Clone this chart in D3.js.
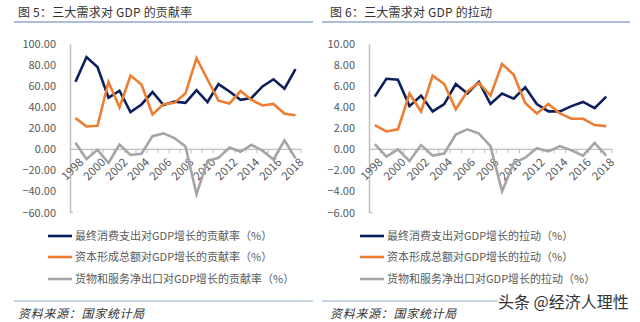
<!DOCTYPE html>
<html><head><meta charset="utf-8">
<script src="https://cdn.jsdelivr.net/npm/d3@7"></script>
<style>
html,body{margin:0;padding:0;background:#fff;}
svg{display:block;}
text{font-family:"Noto Sans CJK SC","Noto Sans",sans-serif;}
</style></head>
<body>
<svg id="c" width="640" height="322"></svg>
<script>
const years = d3.range(1998, 2019);
const xTickYears = [1998,2000,2002,2004,2006,2008,2010,2012,2014,2016,2018];

// 图5：贡献率 (%)
const contribConsumption = [64.1,87.6,78.1,49.0,55.6,35.4,42.6,54.4,42.0,45.3,44.2,56.1,44.9,61.9,54.9,47.0,48.8,59.7,66.5,57.6,76.2];
const contribCapital     = [29.6,21.7,22.4,64.0,39.8,70.0,61.6,33.1,42.9,44.1,53.2,86.5,66.3,46.2,43.4,55.3,46.9,41.6,43.1,33.8,32.4];
const contribNetExport   = [6.3,-9.3,-0.5,-13.0,4.6,-5.4,-4.2,12.5,15.1,10.6,2.6,-42.6,-11.2,-8.1,1.7,-2.3,4.3,-1.3,-9.6,8.6,-8.6];

// 图6：拉动 (百分点)
const pullConsumption = [5.0,6.7,6.6,4.1,5.1,3.6,4.3,6.2,5.3,6.4,4.3,5.3,4.8,5.9,4.3,3.6,3.6,4.1,4.5,3.9,5.0];
const pullCapital     = [2.3,1.7,1.9,5.3,3.6,7.0,6.2,3.8,5.5,6.3,5.1,8.1,7.1,4.4,3.4,4.3,3.4,2.9,2.9,2.3,2.2];
const pullNetExport   = [0.5,-0.7,0.0,-1.1,0.4,-0.6,-0.4,1.4,1.9,1.5,0.3,-4.0,-1.3,-0.8,0.1,-0.2,0.3,-0.1,-0.6,0.6,-0.6];

const leftTicks = [100,80,60,40,20,0,-20,-40,-60];
const rightTicks = [10,8,6,4,2,0,-2,-4,-6];

const leftLegend = ["最终消费支出对GDP增长的贡献率（%）","资本形成总额对GDP增长的贡献率（%）","货物和服务净出口对GDP增长的贡献率（%）"];
const rightLegend = ["最终消费支出对GDP增长的拉动（%）","资本形成总额对GDP增长的拉动（%）","货物和服务净出口对GDP增长的拉动（%）"];

const colors = ["#0c1f5c","#ed7d31","#a5a5a5"];
const svg = d3.select("#c");

function panel(opt){
  const g = svg.append("g");
  // title
  g.append("text").attr("x", opt.titleX).attr("y", 17)
    .attr("font-size", 12).attr("fill", "#333").attr("letter-spacing", 0.2)
    .text(opt.title);
  g.append("line").attr("x1", opt.lineX1).attr("x2", opt.lineX2).attr("y1", 22).attr("y2", 22)
    .attr("stroke", "#8faacc").attr("stroke-width", 1.5);

  const y = d3.scaleLinear().domain([opt.ticks[opt.ticks.length-1], opt.ticks[0]]).range([212.5, 44]);
  const x = d3.scaleBand().domain(years).range([opt.x0, opt.x1]);
  const cx = d => x(d) + x.bandwidth()/2;

  // y axis
  const ya = g.append("g").attr("transform", `translate(${opt.x0},0)`)
    .call(d3.axisLeft(y).tickValues(opt.ticks).tickSize(0).tickPadding(14).tickFormat(d3.format(".2f")));
  ya.select(".domain").attr("stroke", "#bfbfbf").attr("stroke-width", 1.5);
  ya.selectAll("text").attr("font-size", 11).attr("fill", "#595959")
    .attr("font-family", "Calibri,Carlito,'Liberation Sans','Noto Sans',sans-serif");
  g.append("line").attr("x1", opt.x0).attr("x2", opt.x0+3).attr("y1", y(opt.ticks[opt.ticks.length-1])).attr("y2", y(opt.ticks[opt.ticks.length-1]))
    .attr("stroke", "#bfbfbf").attr("stroke-width", 1.5);

  // x axis at zero
  const y0 = y(0);
  g.append("line").attr("x1", opt.x0).attr("x2", opt.x1).attr("y1", y0).attr("y2", y0)
    .attr("stroke", "#bfbfbf").attr("stroke-width", 1.2);
  const bounds = years.map(d => x(d)).concat([opt.x1]);
  g.selectAll(".xt").data(bounds.slice(1)).enter().append("line")
    .attr("x1", d => d).attr("x2", d => d).attr("y1", y0).attr("y2", y0+4)
    .attr("stroke", "#bfbfbf").attr("stroke-width", 1);
  g.selectAll(".xl").data(xTickYears).enter().append("text")
    .attr("transform", d => `translate(${cx(d)+3},${y0+8}) rotate(-45)`)
    .attr("text-anchor", "end").attr("dy", "0.7em")
    .attr("font-size", 11.5).attr("fill", "#595959")
    .attr("font-family", "Calibri,Carlito,'Liberation Sans','Noto Sans',sans-serif")
    .text(d => d);

  // lines
  const line = d3.line().x((d,i) => cx(years[i])).y(d => y(d));
  opt.series.forEach((s, i) => {
    g.append("path").datum(s).attr("d", line).attr("fill", "none")
      .attr("stroke", colors[i]).attr("stroke-width", 2.6).attr("stroke-linejoin", "miter");
  });

  // legend
  const ly = [236, 257, 279];
  opt.legend.forEach((t, i) => {
    g.append("line").attr("x1", opt.legX).attr("x2", opt.legX+24).attr("y1", ly[i]).attr("y2", ly[i])
      .attr("stroke", colors[i]).attr("stroke-width", 2.6);
    g.append("text").attr("x", opt.legX+27).attr("y", ly[i]+4)
      .attr("font-size", 11).attr("fill", "#595959").text(t);
  });

  // footer
  g.append("line").attr("x1", opt.lineX1).attr("x2", opt.footLineX2).attr("y1", 301).attr("y2", 301)
    .attr("stroke", "#8faacc").attr("stroke-width", 1.2);
  g.append("text").attr("x", opt.titleX).attr("y", 318)
    .attr("font-size", 12).attr("fill", "#333").attr("font-style", "italic").attr("letter-spacing", 0.7)
    .text("资料来源：国家统计局");
}

panel({title:"图 5：三大需求对 GDP 的贡献率", titleX:18, lineX1:14, lineX2:313, footLineX2:313,
  x0:70, x1:301, ticks:leftTicks, series:[contribConsumption, contribCapital, contribNetExport],
  legend:leftLegend, legX:48});
panel({title:"图 6：三大需求对 GDP 的拉动", titleX:330, lineX1:322, lineX2:630, footLineX2:498,
  x0:369, x1:612, ticks:rightTicks, series:[pullConsumption, pullCapital, pullNetExport],
  legend:rightLegend, legX:360});

// watermark
svg.append("text").attr("x", 498).attr("y", 308).attr("font-size", 16)
  .attr("fill", "#333").attr("stroke", "#fff").attr("stroke-width", 3).attr("paint-order", "stroke")
  .text("头条 @经济人理性");
</script>
</body></html>
